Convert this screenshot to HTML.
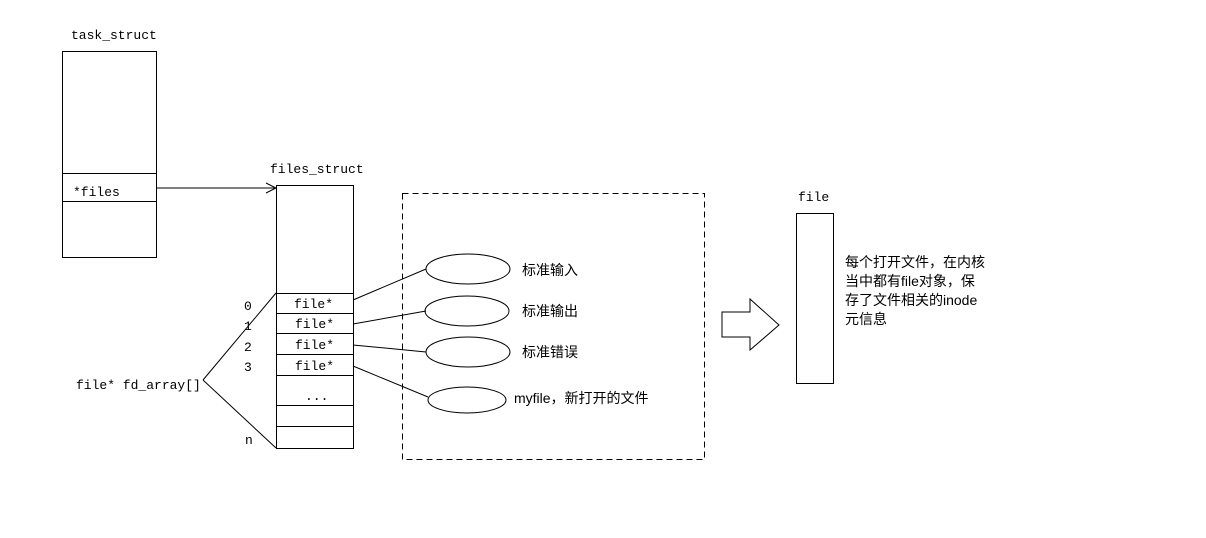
<!DOCTYPE html>
<html><head><meta charset="utf-8"><style>
body{margin:0;background:#fff;}
svg text{font-family:"Liberation Mono","WenQuanYi Zen Hei",monospace;font-size:13px;fill:#000;}
.c{font-family:"Liberation Sans","WenQuanYi Zen Hei",sans-serif;font-size:14px;}
</style></head><body>
<svg width="1206" height="533" viewBox="0 0 1206 533" xmlns="http://www.w3.org/2000/svg">
<g fill="none" stroke="#000" stroke-width="1" shape-rendering="crispEdges">
<rect x="62.5" y="51.5" width="94" height="206"/>
<line x1="62" y1="173.5" x2="156" y2="173.5"/>
<line x1="62" y1="201.5" x2="156" y2="201.5"/>
<rect x="276.5" y="185.5" width="77" height="263"/>
<line x1="276" y1="293.5" x2="353" y2="293.5"/>
<line x1="276" y1="313.5" x2="353" y2="313.5"/>
<line x1="276" y1="333.5" x2="353" y2="333.5"/>
<line x1="276" y1="354.5" x2="353" y2="354.5"/>
<line x1="276" y1="375.5" x2="353" y2="375.5"/>
<line x1="276" y1="405.5" x2="353" y2="405.5"/>
<line x1="276" y1="426.5" x2="353" y2="426.5"/>
<rect x="402.5" y="193.5" width="302" height="266" stroke-dasharray="6,4"/>
<rect x="796.5" y="213.5" width="37" height="170"/>
</g>
<g fill="none" stroke="#000" stroke-width="1">
<line x1="156" y1="188" x2="276" y2="188"/>
<polyline points="266,183 276,188 266,193"/>
<line x1="203" y1="380" x2="276" y2="293"/>
<line x1="203" y1="380" x2="276" y2="448"/>
<line x1="353" y1="300" x2="426" y2="269"/>
<line x1="353" y1="324" x2="426" y2="311"/>
<line x1="353" y1="345" x2="426" y2="352"/>
<line x1="353" y1="366" x2="428" y2="397"/>
<ellipse cx="468" cy="269" rx="42" ry="15"/>
<ellipse cx="467" cy="311" rx="42" ry="15"/>
<ellipse cx="468" cy="352" rx="42" ry="15"/>
<ellipse cx="467" cy="400" rx="39" ry="13"/>
<polygon points="722,312 750,312 750,299 779,325 750,350 750,337 722,337"/>
</g>
<text x="71" y="39">task_struct</text>
<text x="73" y="196">*files</text>
<text x="270" y="173">files_struct</text>
<text x="294" y="308">file*</text>
<text x="295" y="328">file*</text>
<text x="295" y="349">file*</text>
<text x="295" y="370">file*</text>
<text x="305" y="400">...</text>
<text x="244" y="310">0</text>
<text x="244" y="330">1</text>
<text x="244" y="351">2</text>
<text x="244" y="371">3</text>
<text x="245" y="444">n</text>
<text x="76" y="389">file* fd_array[]</text>
<text class="c" x="522" y="275">标准输入</text>
<text class="c" x="522" y="316">标准输出</text>
<text class="c" x="522" y="357">标准错误</text>
<text class="c" x="514" y="403">myfile，新打开的文件</text>
<text x="798" y="201">file</text>
<text class="c" x="845" y="267">每个打开文件，在内核</text>
<text class="c" x="845" y="286">当中都有file对象，保</text>
<text class="c" x="845" y="305">存了文件相关的inode</text>
<text class="c" x="845" y="324">元信息</text>
</svg>
</body></html>
